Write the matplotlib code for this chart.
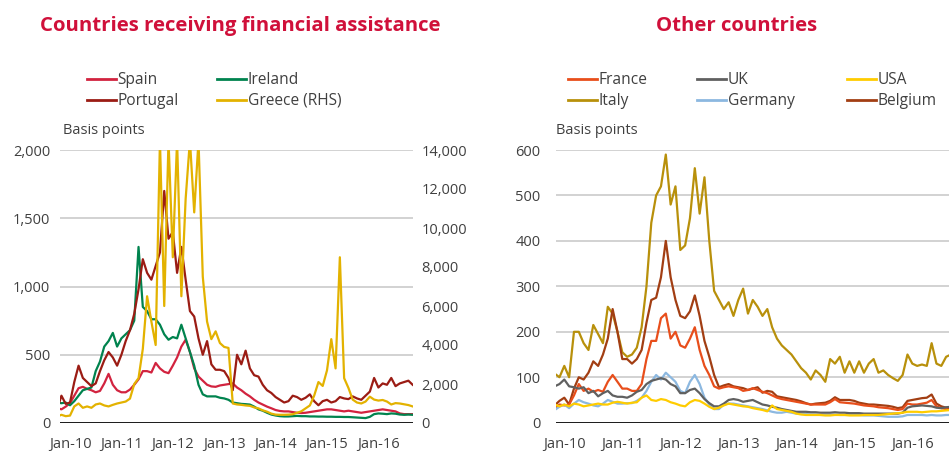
import numpy as np
import pandas as pd
import matplotlib
matplotlib.use("Agg")
import matplotlib.pyplot as plt
from matplotlib.lines import Line2D

# ---------------- data (monthly, Oct-2009 .. Sep-2016, basis points) ----------------
months = pd.date_range("2009-10-01", "2016-09-01", freq="MS")
tick_years = [2010, 2011, 2012, 2013, 2014, 2015, 2016]
tick_labels = ["Jan-10", "Jan-11", "Jan-12", "Jan-13", "Jan-14", "Jan-15", "Jan-16"]

spain = [110, 100, 120, 145, 200, 255, 265, 250, 240, 225,
         235, 290, 360, 280, 240, 225, 225, 245, 280, 320,
         380, 380, 370, 440, 400, 375, 365, 420, 480, 560,
         610, 520, 400, 340, 310, 280, 268, 265, 275, 280,
         285, 290, 260, 240, 215, 195, 170, 150, 135, 120,
         108, 95, 88, 85, 85, 80, 75, 73, 75, 80,
         85, 90, 95, 100, 100, 95, 90, 85, 90, 85,
         80, 75, 80, 85, 90, 95, 100, 95, 90, 85,
         70, 65, 65, 65]
ireland = [150, 145, 150, 130, 160, 200, 240, 250, 260, 380,
           450, 560, 600, 660, 560, 620, 650, 680, 750, 1290,
           850, 820, 760, 760, 720, 650, 610, 630, 620, 720,
           620, 520, 420, 280, 210, 195, 195, 195, 185, 180,
           170, 150, 145, 140, 138, 135, 120, 100, 90, 75,
           62, 55, 50, 48, 48, 50, 52, 50, 50, 48,
           48, 47, 47, 46, 46, 45, 45, 44, 44, 42,
           40, 38, 36, 45, 65, 70, 68, 65, 70, 68,
           62, 60, 62, 60]
portugal = [100, 200, 140, 150, 300, 420, 330, 300, 270, 290,
            380, 460, 520, 480, 420, 500, 600, 680, 800, 980,
            1200, 1100, 1050, 1150, 1250, 1700, 1350, 1400, 1100, 1290,
            1050, 820, 780, 620, 500, 600, 430, 390, 390, 380,
            330, 240, 500, 430, 530, 400, 350, 340, 280, 240,
            220, 190, 170, 150, 160, 200, 190, 170, 185, 210,
            160, 130, 160, 170, 150, 160, 190, 180, 175, 195,
            180, 170, 200, 230, 330, 260, 290, 280, 330, 270,
            290, 300, 310, 280]
greece = [330, 420, 350, 380, 850, 1000, 780, 850, 780, 950,
          1000, 900, 850, 930, 1000, 1050, 1100, 1250, 2000, 2300,
          3800, 6500, 5200, 4000, 14500, 6000, 14500, 8500, 14500, 6500,
          11500, 14500, 10800, 14500, 7500, 5200, 4300, 4700, 4100, 3900,
          3850, 1000, 950, 930, 900, 880, 800, 750, 650, 580,
          480, 430, 420, 420, 430, 450, 520, 600, 750, 900,
          1400, 2100, 1900, 2700, 4300, 2800, 8500, 2300, 1800, 1200,
          1050, 1000, 1100, 1350, 1200, 1150, 1180, 1100, 950, 1020,
          1000, 960, 920, 850]

france = [35, 32, 40, 38, 40, 60, 85, 70, 75, 68,
          72, 68, 90, 105, 90, 75, 75, 70, 70, 85,
          140, 180, 180, 230, 240, 185, 200, 170, 165, 185,
          210, 160, 125, 105, 80, 75, 78, 80, 78, 76,
          70, 72, 76, 72, 68, 65, 60, 55, 52, 50,
          48, 46, 44, 42, 40, 40, 40, 40, 45, 52,
          45, 44, 43, 42, 40, 38, 37, 36, 34, 33,
          32, 30, 28, 30, 42, 40, 40, 42, 44, 50,
          36, 32, 30, 28]
uk = [80, 80, 85, 95, 80, 78, 75, 78, 65, 70,
      58, 65, 70, 60, 57, 57, 55, 60, 68, 72,
      85, 92, 95, 98, 95, 85, 80, 65, 65, 72,
      75, 65, 52, 43, 36, 36, 42, 50, 52, 50,
      46, 48, 50, 45, 40, 38, 35, 33, 30, 28,
      26, 24, 24, 24, 23, 23, 22, 22, 22, 23,
      22, 22, 21, 21, 21, 20, 20, 20, 20, 20,
      20, 20, 20, 22, 33, 36, 37, 38, 37, 36,
      33, 32, 34, 35]
usa = [38, 40, 36, 40, 36, 42, 40, 36, 38, 40,
       42, 40, 40, 44, 46, 44, 42, 44, 45, 55,
       60, 50, 48, 52, 50, 45, 42, 38, 36, 45,
       50, 48, 42, 35, 30, 33, 38, 42, 40, 38,
       36, 35, 32, 30, 28, 25, 38, 30, 28, 26,
       24, 20, 18, 17, 17, 17, 17, 16, 16, 17,
       17, 17, 16, 16, 16, 17, 17, 17, 17, 18,
       19, 20, 21, 22, 24, 24, 24, 23, 24, 25,
       25, 26, 27, 28]
italy = [110, 108, 100, 125, 100, 200, 200, 175, 160, 215,
         195, 175, 255, 240, 200, 155, 145, 150, 165, 210,
         300, 440, 500, 520, 590, 480, 520, 380, 390, 450,
         560, 460, 540, 400, 290, 270, 250, 265, 235, 270,
         295, 240, 270, 255, 235, 250, 210, 185, 170, 160,
         150, 135, 120, 110, 95, 115, 105, 90, 140, 130,
         145, 110, 135, 110, 135, 110, 130, 140, 110, 115,
         105, 98, 92, 105, 150, 130, 125, 128, 125, 175,
         130, 125, 145, 150]
germany = [30, 28, 35, 40, 32, 42, 50, 45, 42, 38,
           36, 42, 50, 46, 42, 42, 43, 43, 48, 55,
           70, 90, 105, 95, 110, 100, 90, 70, 65, 90,
           105, 85, 55, 40, 30, 30, 40, 42, 42, 40,
           38, 36, 34, 32, 30, 27, 24, 22, 22, 24,
           22, 20, 20, 19, 18, 18, 17, 17, 17, 18,
           17, 17, 17, 17, 17, 16, 16, 16, 15, 14,
           13, 13, 13, 14, 17, 17, 17, 17, 16, 17,
           16, 16, 17, 17]
belgium = [45, 38, 48, 55, 40, 75, 100, 95, 110, 135,
           125, 150, 185, 250, 200, 140, 140, 130, 140, 160,
           220, 270, 275, 320, 400, 320, 270, 235, 230, 245,
           280, 235, 180, 145, 105, 78, 82, 85, 80, 78,
           76, 72, 75, 78, 66, 70, 68, 58, 56, 54,
           52, 50, 47, 43, 40, 42, 43, 44, 48, 56,
           50, 50, 50, 48, 44, 42, 40, 40, 39, 38,
           37, 35, 32, 34, 48, 50, 52, 54, 55, 62,
           42, 36, 33, 30]

left_ticks = [0, 500, 1000, 1500, 2000]
rhs_ticks = [0, 2000, 4000, 6000, 8000, 10000, 12000, 14000]
right_ticks = [0, 100, 200, 300, 400, 500, 600]

# ---------------- style ----------------
C_SPAIN, C_IRELAND, C_PORTUGAL, C_GREECE = "#D2233F", "#00834E", "#9B1C14", "#E3B200"
C_FRANCE, C_UK, C_USA = "#E84E1B", "#606060", "#FFCC00"
C_ITALY, C_GERMANY, C_BELGIUM = "#B8900B", "#8CB8E0", "#A23E13"
TITLE_C = "#D0103A"
TXT = "#404040"
GRID = "#c6c6c6"

plt.rcParams['font.family'] = ['Open Sans', 'DejaVu Sans']

W, H = 949, 454
fig = plt.figure(figsize=(W / 100, H / 100), dpi=100)
fig.patch.set_facecolor("white")

x = months.year + (months.month - 1) / 12.0
LW = 1.6


def style_axis(ax):
    for s in ax.spines.values():
        s.set_visible(False)
    ax.tick_params(axis='both', length=0, labelsize=10.5, colors=TXT)
    ax.set_xticks(tick_years)
    ax.set_xticklabels(tick_labels)
    ax.tick_params(axis='x', pad=10)


# ---------------- left panel ----------------
axL = fig.add_axes([60 / W, 1 - 423 / H, 353 / W, 273 / H])
style_axis(axL)
axL.set_ylim(0, 2000)
axL.set_yticks(left_ticks)
axL.set_yticklabels([f"{v:,}" for v in left_ticks])
axL.tick_params(axis='y', pad=7)
axL.yaxis.grid(True, color=GRID, lw=1.1)
axL.set_axisbelow(True)
axL.axhline(0, color="#1a1a1a", lw=1.4, zorder=5)
axL.set_xlim(2010 - 10 / 51.4, 2010 + (413 - 70) / 51.4)
axL.plot(x, spain, color=C_SPAIN, lw=LW, zorder=3)
axL.plot(x, ireland, color=C_IRELAND, lw=LW, zorder=3)
axL.plot(x, portugal, color=C_PORTUGAL, lw=LW, zorder=3)

axG = axL.twinx()
for s in axG.spines.values():
    s.set_visible(False)
axG.set_ylim(0, 14000)
axG.set_yticks(rhs_ticks)
axG.set_yticklabels([f"{v:,}" for v in rhs_ticks])
axG.tick_params(axis='y', length=0, labelsize=10.5, colors=TXT, pad=6)
axG.plot(x, greece, color=C_GREECE, lw=LW, zorder=3)

# ---------------- right panel ----------------
axR = fig.add_axes([556 / W, 1 - 422.7 / H, (W - 556) / W, 272.7 / H])
style_axis(axR)
axR.set_ylim(0, 600)
axR.set_yticks(right_ticks)
axR.set_yticklabels([str(v) for v in right_ticks])
axR.tick_params(axis='y', pad=11)
axR.yaxis.grid(True, color=GRID, lw=1.1)
axR.set_axisbelow(True)
axR.axhline(0, color="#1a1a1a", lw=1.4, zorder=5)
axR.set_xlim(2010 - 8.3 / 58.0, 2010 + (W - 564.3) / 58.0)
axR.plot(x, italy, color=C_ITALY, lw=LW, zorder=3)
axR.plot(x, belgium, color=C_BELGIUM, lw=LW, zorder=3)
axR.plot(x, france, color=C_FRANCE, lw=LW, zorder=3)
axR.plot(x, germany, color=C_GERMANY, lw=LW, zorder=3)
axR.plot(x, uk, color=C_UK, lw=LW, zorder=3)
axR.plot(x, usa, color=C_USA, lw=LW, zorder=3)

# ---------------- titles and labels ----------------
fig.text(240 / W, 1 - 26 / H, "Countries receiving financial assistance", ha='center', va='center',
         fontsize=14.7, fontweight='bold', color=TITLE_C)
fig.text(737 / W, 1 - 26 / H, "Other countries", ha='center', va='center',
         fontsize=14.7, fontweight='bold', color=TITLE_C)
fig.text(63 / W, 1 - 130 / H, "Basis points", ha='left', va='center', fontsize=10.5, color=TXT)
fig.text(556 / W, 1 - 130 / H, "Basis points", ha='left', va='center', fontsize=10.5, color=TXT)


# ---------------- legends (one per column) ----------------
def legend_col(items, xpx, ytop_px):
    handles = [Line2D([0], [0], color=c, lw=2.0) for _, c in items]
    labels = [n for n, _ in items]
    lg = fig.legend(handles, labels, loc='upper left',
                    bbox_to_anchor=(xpx / W, 1 - ytop_px / H), bbox_transform=fig.transFigure,
                    frameon=False, fontsize=11.2, handlelength=1.85, handletextpad=0.12,
                    labelspacing=0.32, borderpad=0, borderaxespad=0)
    for t in lg.get_texts():
        t.set_color(TXT)
    return lg


legend_col([("Spain", C_SPAIN), ("Portugal", C_PORTUGAL)], 87, 72)
legend_col([("Ireland", C_IRELAND), ("Greece (RHS)", C_GREECE)], 217, 72)
legend_col([("France", C_FRANCE), ("Italy", C_ITALY)], 568, 72)
legend_col([("UK", C_UK), ("Germany", C_GERMANY)], 697, 72)
legend_col([("USA", C_USA), ("Belgium", C_BELGIUM)], 847, 72)

fig.savefig("out.png", dpi=100, facecolor="white")
